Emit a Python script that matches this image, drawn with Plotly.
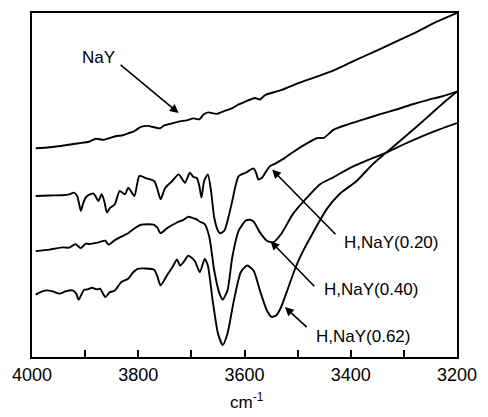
import plotly.graph_objects as go

# ---- data (wavenumber in cm^-1, intensity in arbitrary units) ----
nay_wn = [3993, 3967, 3937, 3912, 3893, 3880, 3865, 3843, 3829, 3819, 3808, 3795, 3782, 3759, 3751,
          3736, 3722, 3709, 3696, 3685, 3677, 3668, 3653, 3635, 3624, 3611, 3598, 3589, 3580, 3571,
          3561, 3530, 3500, 3469, 3438, 3405, 3377, 3344, 3316, 3279, 3239, 3200]
nay_val = [2.10, 2.11, 2.13, 2.15, 2.165, 2.195, 2.185, 2.22, 2.23, 2.25, 2.27, 2.315, 2.325, 2.30, 2.33,
           2.35, 2.37, 2.38, 2.40, 2.39, 2.44, 2.46, 2.445, 2.48, 2.50, 2.54, 2.57, 2.59, 2.605, 2.59,
           2.635, 2.687, 2.753, 2.81, 2.87, 2.95, 3.02, 3.10, 3.17, 3.26, 3.37, 3.46]

h020_wn = [3993, 3967, 3943, 3930, 3921, 3915, 3908, 3904, 3899, 3893, 3884, 3875, 3869, 3864, 3859,
           3853, 3844, 3835, 3825, 3819, 3814, 3807, 3798, 3786, 3770, 3764, 3758, 3749, 3736, 3724,
           3712, 3703, 3696, 3690, 3685, 3681, 3676, 3669, 3663, 3657, 3650, 3646, 3638, 3631, 3623,
           3617, 3611, 3598, 3583, 3578, 3574, 3567, 3561, 3552, 3543, 3524, 3506, 3481, 3463, 3451,
           3432, 3405, 3377, 3346, 3316, 3285, 3254, 3229, 3200]
h020_val = [1.62, 1.625, 1.627, 1.635, 1.653, 1.62, 1.47, 1.54, 1.603, 1.63, 1.643, 1.57, 1.637, 1.57, 1.453,
            1.50, 1.537, 1.67, 1.637, 1.703, 1.67, 1.62, 1.82, 1.80, 1.77, 1.69, 1.587, 1.703, 1.77, 1.837,
            1.753, 1.853, 1.81, 1.803, 1.72, 1.603, 1.77, 1.837, 1.67, 1.403, 1.27, 1.245, 1.27, 1.39, 1.57,
            1.72, 1.82, 1.853, 1.897, 1.85, 1.787, 1.803, 1.853, 1.92, 1.943, 2.003, 2.07, 2.153, 2.203, 2.203,
            2.287, 2.34, 2.387, 2.44, 2.487, 2.54, 2.587, 2.62, 2.67]

h040_wn = [3993, 3967, 3942, 3930, 3918, 3908, 3899, 3893, 3875, 3862, 3856, 3844, 3832, 3819, 3808,
           3795, 3782, 3770, 3764, 3758, 3746, 3727, 3715, 3706, 3696, 3690, 3684, 3675, 3666, 3657,
           3647, 3641, 3632, 3623, 3611, 3598, 3591, 3583, 3571, 3558, 3546, 3531, 3509, 3488, 3457,
           3432, 3401, 3368, 3334, 3300, 3266, 3233, 3200]
h040_val = [1.065, 1.08, 1.103, 1.10, 1.135, 1.095, 1.14, 1.137, 1.153, 1.17, 1.13, 1.175, 1.21, 1.245, 1.29,
            1.33, 1.335, 1.33, 1.30, 1.245, 1.295, 1.353, 1.38, 1.41, 1.395, 1.385, 1.36, 1.337, 1.203, 0.87,
            0.637, 0.577, 0.67, 1.003, 1.27, 1.37, 1.38, 1.363, 1.253, 1.17, 1.153, 1.237, 1.437, 1.57, 1.74,
            1.81, 1.903, 1.98, 2.053, 2.14, 2.22, 2.29, 2.353]

h062_wn = [3993, 3985, 3973, 3961, 3948, 3937, 3924, 3917, 3912, 3902, 3895, 3887, 3878, 3872, 3862,
           3854, 3844, 3832, 3819, 3810, 3801, 3786, 3770, 3764, 3758, 3746, 3735, 3727, 3721, 3714,
           3706, 3700, 3693, 3684, 3675, 3669, 3660, 3650, 3641, 3632, 3620, 3607, 3595, 3583, 3571,
           3558, 3549, 3540, 3531, 3515, 3506, 3494, 3469, 3445, 3421, 3389, 3359, 3334, 3297, 3254,
           3229, 3200]
h062_val = [0.627, 0.65, 0.67, 0.66, 0.637, 0.66, 0.67, 0.64, 0.577, 0.677, 0.68, 0.697, 0.68, 0.687, 0.603,
            0.65, 0.67, 0.753, 0.787, 0.85, 0.887, 0.89, 0.877, 0.81, 0.72, 0.82, 0.91, 0.98, 0.92, 0.96,
            1.02, 1.00, 0.96, 0.853, 0.987, 0.92, 0.57, 0.237, 0.12, 0.237, 0.57, 0.853, 0.92, 0.87, 0.67,
            0.47, 0.403, 0.42, 0.503, 0.737, 0.87, 1.02, 1.27, 1.49, 1.64, 1.77, 1.937, 2.053, 2.22, 2.42,
            2.54, 2.67]

tick_vals = [4000, 3900, 3800, 3700, 3600, 3500, 3400, 3300, 3200]
tick_text = ["4000", "", "3800", "", "3600", "", "3400", "", "3200"]

series = [("NaY", nay_wn, nay_val), ("H,NaY(0.20)", h020_wn, h020_val),
          ("H,NaY(0.40)", h040_wn, h040_val), ("H,NaY(0.62)", h062_wn, h062_val)]

# labels: (text, text_x, text_y, xanchor, arrow tail x, tail y, tip x, tip y)
labels = [("NaY", 3875, 3.01, "center", 3836, 2.95, 3724, 2.453),
          ("H,NaY(0.20)", 3416, 1.153, "left", 3426, 1.22, 3548, 1.885),
          ("H,NaY(0.40)", 3454, 0.68, "left", 3466, 0.697, 3551, 1.165),
          ("H,NaY(0.62)", 3469, 0.203, "left", 3480, 0.287, 3524, 0.503)]

FONT = "Liberation Sans, Arial, Helvetica, sans-serif"

fig = go.Figure()
for name, wn, val in series:
    fig.add_trace(go.Scatter(x=wn, y=val, mode="lines", name=name,
                             line=dict(color="black", width=1.9, shape="spline", smoothing=0.6),
                             showlegend=False, hoverinfo="skip"))

for text, tx, ty, xa, ax_, ay_, px, py in labels:
    fig.add_annotation(x=tx, y=ty, xref="x", yref="y", text=text, showarrow=False,
                       xanchor=xa, yanchor="middle", font=dict(family=FONT, size=17, color="black"))
    fig.add_annotation(x=px, y=py, ax=ax_, ay=ay_, xref="x", yref="y", axref="x", ayref="y",
                       text="", showarrow=True, arrowhead=2, arrowsize=1.1, arrowwidth=1.6,
                       arrowcolor="black")

fig.add_annotation(x=0.505, y=-0.128, xref="paper", yref="paper", text="cm<sup>-1</sup>",
                   showarrow=False, xanchor="center", yanchor="middle",
                   font=dict(family=FONT, size=17, color="black"))

fig.update_xaxes(range=[4000, 3200], tickvals=tick_vals, ticktext=tick_text,
                 ticks="inside", ticklen=7, tickwidth=2, tickcolor="black",
                 showline=True, linewidth=2, linecolor="black", mirror=True,
                 showgrid=False, zeroline=False,
                 tickfont=dict(family=FONT, size=18, color="black"))
fig.update_yaxes(range=[0, 3.46], showticklabels=False, ticks="",
                 showline=True, linewidth=2, linecolor="black", mirror=True,
                 showgrid=False, zeroline=False)

fig.update_layout(width=488, height=417, margin=dict(l=32, r=22, t=11, b=60),
                  paper_bgcolor="white", plot_bgcolor="white")

fig.write_html("out.html")
